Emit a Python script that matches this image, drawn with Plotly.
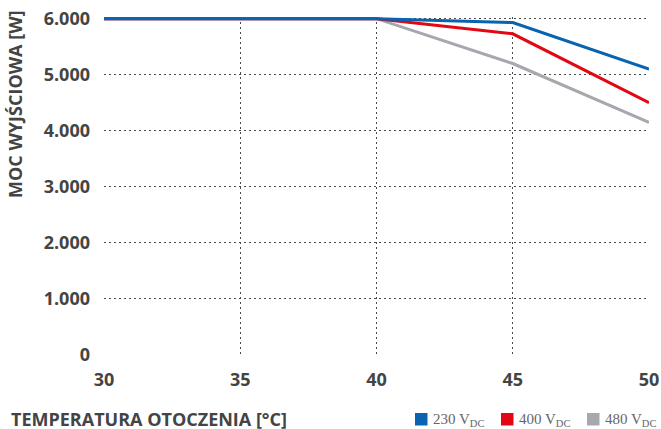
import plotly.graph_objects as go

temps = [30, 35, 40, 45, 50]
p230 = [6000, 6000, 6000, 5930, 5100]
p400 = [6000, 6000, 6000, 5730, 4500]
p480 = [6000, 6000, 6000, 5200, 4150]
series_names = ["230 V<sub>DC</sub>", "400 V<sub>DC</sub>", "480 V<sub>DC</sub>"]
colors = ["#0863b0", "#e30613", "#a5a8ad"]
y_ticks = [0, 1000, 2000, 3000, 4000, 5000, 6000]
y_ticktext = ["0", "1.000", "2.000", "3.000", "4.000", "5.000", "6.000"]
x_ticks = [30, 35, 40, 45, 50]

LBL = "Open Sans, sans-serif"
TXT = "#444444"
GRID = "#4a4a4a"

W, H = 661, 429
L, R, T, B = 104, 12, 17, 74
PW, PH = W - L - R, H - T - B


def px_x(px):
    return (px - L) / PW


def px_y(py):
    return (H - B - py) / PH


fig = go.Figure()
for vals, name, col in reversed(list(zip([p230, p400, p480], series_names, colors))):
    fig.add_trace(go.Scatter(x=temps, y=vals, mode="lines", name=name,
                             line=dict(color=col, width=3),
                             showlegend=False, hoverinfo="skip"))

# legend (swatch + label) placed in the bottom margin
legend_left = [415, 501, 587]
shapes = []
annotations = []
for name, col, lx in zip(series_names, colors, legend_left):
    shapes.append(dict(type="rect", xref="paper", yref="paper",
                       x0=px_x(lx), x1=px_x(lx + 12.5), y0=px_y(425.5), y1=px_y(413),
                       fillcolor=col, line=dict(width=0)))
    annotations.append(dict(text=name, xref="paper", yref="paper",
                            x=px_x(lx + 16), y=px_y(420), xanchor="left", yanchor="middle",
                            showarrow=False,
                            font=dict(family="Liberation Serif, serif", size=15, color="#666666")))

annotations += [
    dict(text="TEMPERATURA OTOCZENIA [°C]", xref="paper", yref="paper",
         x=px_x(9), y=px_y(419), xanchor="left", yanchor="middle",
         showarrow=False, font=dict(family=LBL, size=18, color=TXT, weight="bold")),
    dict(text="MOC WYJŚCIOWA [W]", xref="paper", yref="paper", textangle=-90,
         x=px_x(15), y=px_y(8), xanchor="center", yanchor="top",
         showarrow=False, font=dict(family=LBL, size=18, color=TXT, weight="bold")),
]

fig.update_layout(
    width=W, height=H,
    margin=dict(l=L, r=R, t=T, b=B, autoexpand=False),
    paper_bgcolor="white", plot_bgcolor="white",
    showlegend=False,
    xaxis=dict(range=[30, 50], tickvals=x_ticks, showgrid=True, gridcolor=GRID,
               griddash="2px,3px", gridwidth=1, zeroline=False, showline=False,
               tickfont=dict(family=LBL, size=18, color=TXT, weight="bold"),
               ticks="", ticklabelstandoff=12, automargin=False),
    yaxis=dict(range=[0, 6030], tickvals=y_ticks, ticktext=y_ticktext, showgrid=True,
               gridcolor=GRID, griddash="2px,3px", gridwidth=1, zeroline=False, showline=False,
               tickfont=dict(family=LBL, size=18, color=TXT, weight="bold"),
               ticks="", ticklabelstandoff=13, automargin=False),
    shapes=shapes,
    annotations=annotations,
)

fig.write_html("out.html", config={"displayModeBar": False},
               post_script="document.body.style.margin='0';document.body.style.overflow='hidden';")
